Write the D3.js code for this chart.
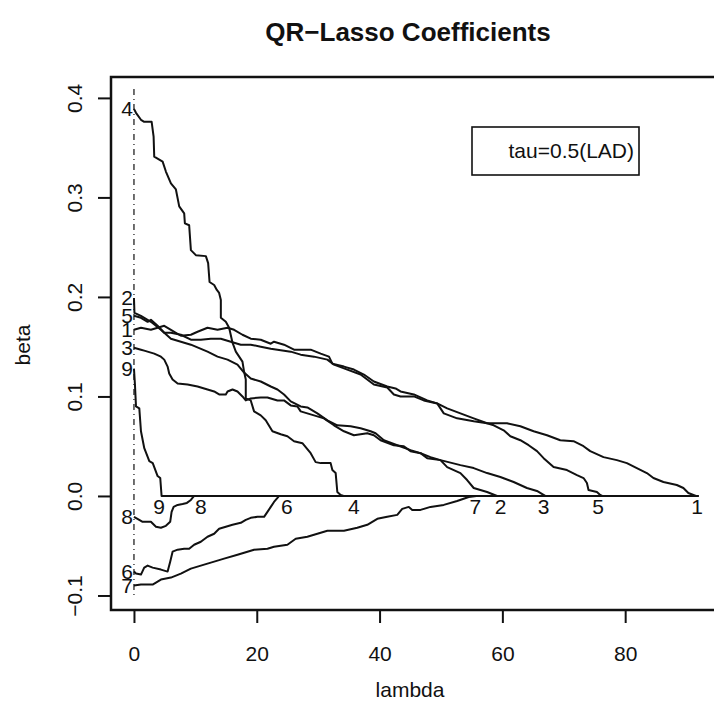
<!DOCTYPE html>
<html>
<head>
<meta charset="utf-8">
<script src="https://cdn.jsdelivr.net/npm/d3@7"></script>
<style>
  body { margin: 0; background: #fff; }
  svg { display: block; font-family: "Liberation Sans", Arial, sans-serif; }
</style>
</head>
<body>
<svg id="chart" width="714" height="713"></svg>
<script>

// coefficient paths, [lambda, beta]
const path1 = [[0,0.167],[1.14,0.169],[2.76,0.167],[3.85,0.169],[4.93,0.171],[6.02,0.167],[7.64,0.161],[9.27,0.162],
  [10.36,0.165],[11.98,0.169],[13.61,0.167],[15.24,0.169],[16.31,0.167],[17.67,0.162],[19.02,0.158],[20.65,0.157],
  [22.28,0.153],[22.81,0.155],[24.44,0.152],[26.07,0.147],[28.78,0.147],[30.41,0.143],[31.76,0.140],[32.31,0.133],
  [34.20,0.130],[35.82,0.127],[37.45,0.122],[39.07,0.115],[41.25,0.110],[42.60,0.108],[43.41,0.105],[45.58,0.102],
  [47.76,0.096],[49.38,0.093],[51.01,0.088],[53.17,0.083],[55.33,0.078],[57.51,0.073],[60.76,0.073],[62.93,0.070],
  [65.09,0.065],[67.27,0.061],[69.43,0.056],[71.59,0.055],[73.22,0.050],[74.31,0.045],[76.47,0.039],[78.65,0.036],
  [80.28,0.033],[81.90,0.028],[83.53,0.023],[84.60,0.018],[86.23,0.014],[88.41,0.011],[89.48,0.008],[90.29,0.003],
  [91.11,0.001],[91.54,0],[91.9,0]];
const path2 = [[0,0.199],[0.08,0.184],[1.14,0.181],[2.76,0.175],[4.39,0.167],[6.02,0.158],[9.27,0.152],[11.98,0.145],
  [13.61,0.140],[15.24,0.137],[16.86,0.132],[17.93,0.124],[19.02,0.118],[20.65,0.115],[22.28,0.110],[23.37,0.107],
  [24.44,0.102],[25.53,0.095],[27.15,0.090],[28.24,0.089],[29.87,0.083],[31.50,0.076],[33.12,0.071],[35.28,0.070],
  [36.91,0.068],[38.54,0.065],[39.35,0.063],[40.70,0.056],[42.88,0.051],[45.04,0.046],[46.67,0.043],[47.76,0.038],
  [49.92,0.036],[51.01,0.029],[53.17,0.023],[54.26,0.016],[55.33,0.008],[57.51,0.004],[59.14,0],[91.9,0]];
const path3 = [[0,0.149],[1.14,0.147],[1.67,0.146],[3.30,0.143],[4.39,0.140],[4.93,0.137],[5.48,0.130],[5.74,0.123],
  [6.29,0.117],[7.11,0.113],[8.73,0.112],[10.36,0.110],[11.98,0.107],[13.06,0.105],[13.87,0.102],[14.96,0.102],
  [15.24,0.105],[16.05,0.107],[16.86,0.105],[17.67,0.100],[18.21,0.096],[19.02,0.098],[20.65,0.099],[21.74,0.099],
  [23.37,0.096],[24.44,0.096],[25.53,0.091],[26.62,0.090],[27.15,0.085],[29.32,0.081],[30.94,0.078],[32.57,0.071],
  [34.20,0.065],[35.82,0.061],[38.00,0.063],[39.07,0.061],[40.16,0.056],[42.33,0.051],[43.95,0.050],[45.04,0.045],
  [46.67,0.043],[48.29,0.039],[49.92,0.036],[53.17,0.031],[55.33,0.028],[57.51,0.023],[59.67,0.019],[61.84,0.014],
  [64.00,0.008],[65.63,0.005],[66.71,0.001],[66.99,0],[91.9,0]];
const path4 = [[0,0.389],[0.33,0.385],[1.14,0.378],[1.67,0.376],[2.88,0.376],[3.20,0.361],[3.30,0.341],[4.67,0.336],
  [5.20,0.326],[6.02,0.314],[6.83,0.308],[7.37,0.291],[8.18,0.284],[8.29,0.274],[8.99,0.272],[9.27,0.247],
  [10.08,0.242],[11.71,0.241],[12.08,0.234],[12.31,0.215],[13.06,0.212],[13.50,0.207],[13.87,0.204],[14.15,0.197],
  [14.15,0.179],[14.96,0.175],[15.50,0.169],[16.05,0.154],[16.59,0.145],[17.67,0.135],[17.93,0.125],[18.21,0.117],
  [18.21,0.098],[19.02,0.096],[19.56,0.085],[20.65,0.081],[21.46,0.076],[22.55,0.065],[23.90,0.062],[24.99,0.060],
  [26.07,0.055],[27.43,0.053],[28.78,0.043],[29.59,0.034],[30.41,0.033],[32.03,0.033],[32.31,0.026],[32.85,0.023],
  [33.12,0.004],[33.66,0.001],[34.15,0],[91.9,0]];
const path5 = [[0,0.181],[1.14,0.179],[2.23,0.175],[2.76,0.177],[3.85,0.171],[4.93,0.164],[6.02,0.164],[7.64,0.162],
  [9.27,0.157],[10.89,0.157],[12.52,0.158],[14.15,0.158],[15.77,0.155],[17.40,0.152],[19.02,0.152],[20.65,0.150],
  [22.28,0.148],[25.53,0.145],[27.15,0.142],[29.32,0.140],[31.50,0.137],[32.57,0.132],[34.75,0.127],[36.91,0.122],
  [39.07,0.112],[41.25,0.109],[42.33,0.102],[43.41,0.100],[45.58,0.100],[47.20,0.096],[49.38,0.093],[50.46,0.083],
  [52.63,0.078],[55.33,0.075],[57.51,0.073],[58.59,0.071],[60.21,0.066],[61.30,0.060],[62.93,0.056],[64.28,0.051],
  [65.64,0.045],[66.72,0.038],[68.34,0.029],[70.52,0.026],[72.15,0.021],[73.22,0.018],[73.77,0.013],[74.03,0.006],
  [75.40,0.004],[75.93,0.001],[76.26,0],[91.9,0]];
const path6 = [[0,-0.076],[0.33,-0.078],[1.14,-0.079],[1.67,-0.072],[2.23,-0.070],[3.04,-0.072],[4.39,-0.074],
  [5.48,-0.076],[5.90,-0.066],[6.29,-0.056],[7.11,-0.054],[8.18,-0.053],[8.99,-0.053],[9.80,-0.049],[10.89,-0.046],
  [11.98,-0.041],[13.06,-0.038],[13.87,-0.033],[14.96,-0.031],[16.05,-0.029],[17.40,-0.027],[18.21,-0.024],
  [19.02,-0.022],[20.11,-0.021],[21.19,-0.021],[21.74,-0.016],[22.28,-0.011],[22.81,-0.006],[23.37,-0.002],
  [23.63,0],[91.9,0]];
const path7 = [[0,-0.090],[1.14,-0.089],[3.04,-0.089],[4.39,-0.084],[6.02,-0.082],[7.64,-0.078],[9.27,-0.073],
  [11.43,-0.069],[13.06,-0.066],[14.68,-0.063],[16.86,-0.059],[19.56,-0.054],[21.74,-0.053],[22.81,-0.051],
  [24.99,-0.049],[26.34,-0.043],[28.24,-0.041],[29.87,-0.038],[31.50,-0.035],[34.20,-0.035],[36.37,-0.032],
  [38.00,-0.029],[39.63,-0.023],[41.25,-0.021],[42.88,-0.019],[43.69,-0.013],[44.76,-0.011],[45.32,-0.014],
  [46.67,-0.014],[48.29,-0.011],[50.46,-0.009],[52.63,-0.005],[54.52,-0.001],[55.77,0],[91.9,0]];
const path8 = [[0,-0.021],[0.86,-0.024],[1.41,-0.026],[2.76,-0.026],[3.58,-0.031],[4.39,-0.032],[5.20,-0.030],
  [5.90,-0.026],[6.13,-0.016],[6.46,-0.011],[7.11,-0.009],[7.92,-0.008],[8.62,-0.007],[9.27,-0.004],[9.80,0],[91.9,0]];
const path9 = [[0,0.128],[0.16,0.112],[0.33,0.090],[0.87,0.088],[1.14,0.065],[1.68,0.048],[2.50,0.035],[3.06,0.033],
  [3.85,0.020],[4.28,0.018],[4.50,0],[91.9,0]];

const seriesNames = ["1", "2", "3", "4", "5", "6", "7", "8", "9"];
const seriesPaths = [path1, path2, path3, path4, path5, path6, path7, path8, path9];
// where each number is written under the zero line
const endLabelLambda = [91.7, 59.7, 66.7, 35.8, 75.6, 24.9, 55.6, 10.9, 4.1];

const xTicks = [0, 20, 40, 60, 80];
const yTicks = [-0.1, 0.0, 0.1, 0.2, 0.3, 0.4];

const titleText = "QR\u2212Lasso Coefficients";
const xLabel = "lambda";
const yLabel = "beta";
const legendText = "tau=0.5(LAD)";

let svg = d3.select("#chart");

let plot = {left: 111, right: 722, top: 77, bottom: 610};

let x = d3.scaleLinear().domain([-3.74, 95.77]).range([plot.left, plot.right]);
let y = d3.scaleLinear().domain([-0.1146, 0.421]).range([plot.bottom, plot.top]);

let ink = "#111";

// title
svg.append("text")
    .attr("x", 408).attr("y", 41)
    .attr("text-anchor", "middle")
    .style("font-size", "26px").style("font-weight", "bold")
    .style("fill", ink)
    .text(titleText);

// dash-dot line at lambda = 0
svg.append("line")
    .attr("x1", x(0)).attr("x2", x(0))
    .attr("y1", plot.top + 12).attr("y2", plot.bottom - 12)
    .attr("stroke", ink).attr("stroke-width", 1.2)
    .attr("stroke-dasharray", "6,4,1,4");

// coefficient paths
let line = d3.line().x(d => x(d[0])).y(d => y(d[1]));
svg.append("g").selectAll("path")
    .data(seriesPaths).enter().append("path")
    .attr("d", line)
    .attr("fill", "none")
    .attr("stroke", ink)
    .attr("stroke-width", 2)
    .attr("stroke-linejoin", "round");

// numbers at lambda = 0
svg.append("g").selectAll("text")
    .data(seriesPaths).enter().append("text")
    .attr("x", x(0) - 1)
    .attr("y", d => y(d[0][1]))
    .attr("dy", "0.36em")
    .attr("text-anchor", "end")
    .style("font-size", "21px").style("fill", ink)
    .text((d, i) => seriesNames[i]);

// numbers where each path hits zero
svg.append("g").selectAll("text")
    .data(endLabelLambda).enter().append("text")
    .attr("x", d => x(d))
    .attr("y", y(0))
    .attr("dy", "0.86em")
    .attr("text-anchor", "middle")
    .style("font-size", "21px").style("fill", ink)
    .text((d, i) => seriesNames[i]);

// box
svg.append("rect")
    .attr("x", plot.left).attr("y", plot.top)
    .attr("width", plot.right - plot.left).attr("height", plot.bottom - plot.top)
    .attr("fill", "none").attr("stroke", ink).attr("stroke-width", 2.5);

// axes
let xAxis = svg.append("g")
    .attr("transform", `translate(0,${plot.bottom})`)
    .call(d3.axisBottom(x).tickValues(xTicks).tickSize(13).tickPadding(23).tickFormat(d3.format("d")));
let yAxis = svg.append("g")
    .attr("transform", `translate(${plot.left},0)`)
    .call(d3.axisLeft(y).tickValues(yTicks).tickSize(13).tickFormat(d3.format(".1f")));

[xAxis, yAxis].forEach(a => {
    a.select(".domain").remove();
    a.selectAll("line").attr("stroke", ink).attr("stroke-width", 2);
    a.selectAll("text").style("font-size", "21px").style("font-family", "Liberation Sans, Arial, sans-serif").attr("fill", ink);
});
yAxis.selectAll("text")
    .attr("x", null)
    .attr("dy", "0.36em")
    .attr("text-anchor", "middle")
    .attr("transform", "translate(-37,0) rotate(-90)");

// axis titles
svg.append("text")
    .attr("x", 410).attr("y", 697)
    .attr("text-anchor", "middle")
    .style("font-size", "21px").style("fill", ink)
    .text(xLabel);
svg.append("text")
    .attr("transform", "translate(22,345) rotate(-90)")
    .attr("dy", "0.36em")
    .attr("text-anchor", "middle")
    .style("font-size", "21px").style("fill", ink)
    .text(yLabel);

// legend
svg.append("rect")
    .attr("x", 472).attr("y", 127)
    .attr("width", 167).attr("height", 48)
    .attr("fill", "#fff").attr("stroke", ink).attr("stroke-width", 1.6);
svg.append("text")
    .attr("x", 634).attr("y", 158)
    .attr("text-anchor", "end")
    .style("font-size", "21px").style("fill", ink)
    .text(legendText);

</script>
</body>
</html>
